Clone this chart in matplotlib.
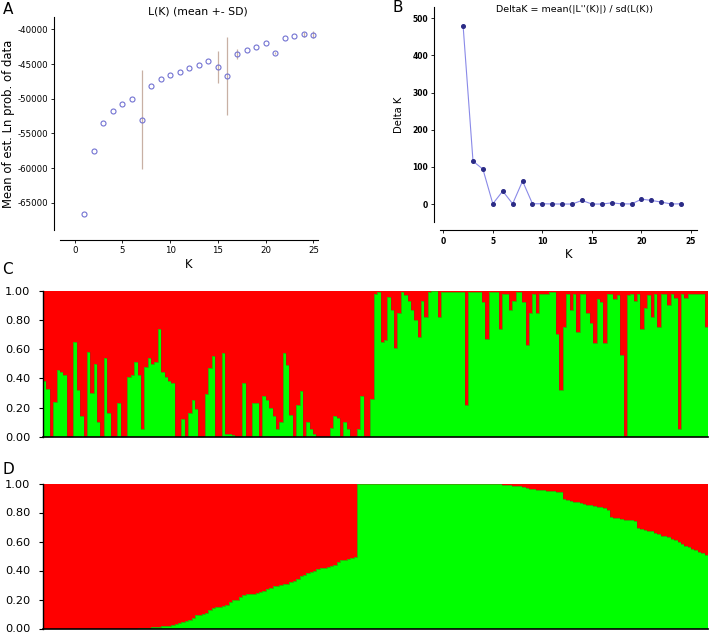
import matplotlib
matplotlib.use("Agg")
import numpy as np
import matplotlib.pyplot as plt

plt.rcParams["font.family"] = "DejaVu Sans"
plt.rcParams["axes.unicode_minus"] = False

# panel A: L(K) mean +- SD
k_a = list(range(1, 26))
lk_mean = [-66600, -57500, -53500, -51780, -50720, -50050, -53010, -48220, -47210, -46590,
           -46100, -45580, -45100, -44570, -45460, -46760, -43560, -42930, -42500, -41970,
           -43410, -41250, -41010, -40720, -40770]
lk_sd = [0, 0, 0, 0, 0, 0, 7140, 0, 0, 0,
         0, 0, 0, 0, 2330, 5600, 720, 0, 0, 0,
         150, 0, 0, 400, 550]

# panel B: Delta K
k_b = list(range(2, 25))
delta_k = [480, 115.6, 94, 1, 35, 1, 62, 1, 1, 0.5, 0.3, 0.3, 10, 0.2, 0.3, 3.5, 0.8, 0.5,
           13.4, 10, 5.5, 0.5, 0.8]

# panel C: green membership per individual
q_c = [0.38, 0.33, 0.0, 0.24, 0.46, 0.44, 0.42, 0.0, 0.0, 0.65,
       0.32, 0.14, 0.0, 0.58, 0.30, 0.50, 0.10, 0.0, 0.54, 0.16,
       0.0, 0.0, 0.23, 0.0, 0.0, 0.41, 0.42, 0.51, 0.42, 0.05,
       0.48, 0.54, 0.50, 0.51, 0.74, 0.44, 0.41, 0.38, 0.37, 0.0,
       0.0, 0.12, 0.0, 0.16, 0.25, 0.19, 0.0, 0.0, 0.29, 0.47,
       0.55, 0.0, 0.0, 0.57, 0.02, 0.02, 0.01, 0.0, 0.0, 0.37,
       0.0, 0.0, 0.23, 0.23, 0.0, 0.28, 0.25, 0.20, 0.14, 0.05,
       0.10, 0.57, 0.49, 0.15, 0.0, 0.22, 0.31, 0.0, 0.10, 0.05,
       0.02, 0.0, 0.0, 0.0, 0.0, 0.06, 0.14, 0.13, 0.0, 0.10,
       0.05, 0.0, 0.0, 0.05, 0.28, 0.0, 0.0, 0.26, 0.98, 0.99,
       0.65, 0.66, 0.96, 0.87, 0.61, 0.85, 0.99, 0.97, 0.93, 0.87,
       0.80, 0.68, 0.93, 0.82, 0.99, 1.0, 1.0, 0.82, 0.99, 0.99,
       0.99, 0.99, 0.99, 0.99, 0.99, 0.22, 0.99, 0.99, 0.99, 0.99,
       0.92, 0.67, 0.99, 0.99, 0.99, 0.74, 0.98, 0.98, 0.87, 0.93,
       0.99, 0.99, 0.92, 0.63, 0.85, 0.98, 0.85, 0.98, 0.98, 0.98,
       0.99, 0.99, 0.70, 0.32, 0.75, 0.98, 0.87, 0.98, 0.72, 0.98,
       0.98, 0.85, 0.78, 0.64, 0.94, 0.92, 0.64, 0.98, 0.98, 0.94,
       0.97, 0.56, 0.0, 0.97, 0.98, 0.93, 0.98, 0.74, 0.88, 0.97,
       0.82, 0.98, 0.75, 0.98, 0.98, 0.90, 0.98, 0.95, 0.05, 0.98,
       0.95, 0.98, 0.98, 0.98, 0.98, 0.98, 0.75]

# panel D: sorted green membership
q_d = [0.0] * 28 + [
    0.003, 0.004, 0.005, 0.006, 0.008, 0.01,
    0.012, 0.015, 0.018, 0.02,
    0.025, 0.03, 0.04,
    0.045, 0.05, 0.06,
    0.075, 0.09,
    0.095, 0.10, 0.11,
    0.125, 0.14,
    0.145, 0.15, 0.155, 0.16,
    0.18, 0.195, 0.20,
    0.22, 0.23,
    0.235, 0.235, 0.24,
    0.245, 0.25, 0.26,
    0.275, 0.28, 0.29,
    0.295, 0.30, 0.305, 0.31,
    0.32, 0.33, 0.34,
    0.36, 0.37,
    0.38, 0.39, 0.40,
    0.41, 0.415, 0.42,
    0.425, 0.43, 0.44,
    0.46, 0.47,
    0.475, 0.48, 0.485, 0.49] + [1.0] * 40 + [
    0.998, 0.997, 0.995, 0.993, 0.99, 0.987,
    0.985, 0.982, 0.98, 0.975, 0.97, 0.965,
    0.96, 0.958, 0.955, 0.952, 0.95, 0.948, 0.945, 0.943, 0.94,
    0.89, 0.885, 0.88, 0.875, 0.87, 0.865, 0.86,
    0.855, 0.85, 0.845, 0.84, 0.835, 0.83, 0.82,
    0.77, 0.765, 0.76, 0.755, 0.75, 0.75, 0.745, 0.74,
    0.69, 0.685, 0.68, 0.675, 0.67, 0.66,
    0.65, 0.64, 0.635, 0.63,
    0.62, 0.61, 0.6, 0.585, 0.57,
    0.56, 0.55, 0.54, 0.53, 0.52, 0.51]

RED = "#ff0000"
GREEN = "#00ff00"

W, H = 711, 636
fig = plt.figure(figsize=(W / 100, H / 100), dpi=100)


def box(x0, y0, x1, y1):
    # pixel box (top-left origin) -> figure fraction
    return [x0 / W, 1 - y1 / H, (x1 - x0) / W, (y1 - y0) / H]


# ---- A ----
axA = fig.add_axes(box(60, 17, 318, 230))
axA.errorbar(k_a, lk_mean, yerr=lk_sd, fmt="none", ecolor="#c8b0a4", elinewidth=0.9)
axA.plot(k_a, lk_mean, "o", ms=3.6, mfc="none", mec="#7272d2", mew=0.8)
axA.set_xlim(-1.54, 25.48)
axA.set_ylim(-68940, -38220)
axA.set_xticks([0, 5, 10, 15, 20, 25])
axA.set_yticks([-65000, -60000, -55000, -50000, -45000, -40000])
axA.set_ylabel("Mean of est. Ln prob. of data", fontsize=8.4, labelpad=2)
axA.set_xlabel("K", fontsize=8.4, labelpad=2)

# ---- B ----
axB = fig.add_axes(box(440, 7, 697, 222))
axB.plot(k_b, delta_k, "-", color="#8a8ae8", lw=0.8)
axB.plot(k_b, delta_k, "o", ms=2.6, color="#2b2b86")
axB.set_xlim(-0.33, 25.6)
axB.set_ylim(-48, 530)
axB.set_xticks([0, 5, 10, 15, 20, 25])
axB.set_yticks([0, 100, 200, 300, 400, 500])
axB.set_ylabel("Delta K", fontsize=7.2, labelpad=6)
axB.set_xlabel("K", fontsize=8.4, labelpad=2)

for ax, off_b in [(axA, 7), (axB, 6)]:
    ax.spines["top"].set_visible(False)
    ax.spines["right"].set_visible(False)
    ax.spines["left"].set_position(("outward", 4))
    ax.spines["bottom"].set_position(("outward", off_b))
    ax.spines["left"].set_linewidth(0.8)
    ax.spines["bottom"].set_linewidth(0.8)
    ax.tick_params(direction="out", length=2.5, width=0.6, labelsize=6.2, pad=2)
for lab in axB.get_xticklabels() + axB.get_yticklabels():
    lab.set_fontweight("bold")
    lab.set_fontsize(5.5)

fig.text(198 / W, 1 - 11 / H, "L(K) (mean +- SD)", fontsize=7.8, ha="center", va="center")
fig.text(574 / W, 1 - 10 / H, "DeltaK = mean(|L''(K)|) / sd(L(K))", fontsize=6.8,
         ha="center", va="center")

# ---- C and D ----
for q, top, hgt in [(q_c, 290.7, 146), (q_d, 483.5, 145)]:
    ax = fig.add_axes(box(43, top, 708, top + hgt))
    n = len(q)
    x = np.arange(n)
    g = np.array(q)
    ax.bar(x, g, width=1.0, color=GREEN, linewidth=0, align="edge")
    ax.bar(x, 1 - g, bottom=g, width=1.0, color=RED, linewidth=0, align="edge")
    # soft dark seam along the green/red boundary
    ax.step(np.arange(n + 1), np.append(g, g[-1]), where="post",
            color="#8c3212", lw=0.5, alpha=0.6)
    ax.set_xlim(0, n)
    ax.set_ylim(0, 1)
    ax.set_xticks([])
    ax.set_yticks([0, 0.2, 0.4, 0.6, 0.8, 1.0])
    ax.set_yticklabels(["0.00", "0.20", "0.40", "0.60", "0.80", "1.00"])
    ax.tick_params(axis="y", direction="out", length=3, width=0.8, labelsize=8.2, pad=6)
    ax.spines["top"].set_visible(False)
    ax.spines["right"].set_visible(False)
    ax.spines["left"].set_linewidth(1.0)
    ax.spines["bottom"].set_linewidth(1.2)

fig.text(3 / W, 1 - 10 / H, "A", fontsize=11, va="center", ha="left")
fig.text(392 / W, 1 - 8 / H, "B", fontsize=11, va="center", ha="left")
fig.text(2 / W, 1 - 270 / H, "C", fontsize=11, va="center", ha="left")
fig.text(2 / W, 1 - 469 / H, "D", fontsize=11, va="center", ha="left")

fig.savefig("out.png", dpi=100)
